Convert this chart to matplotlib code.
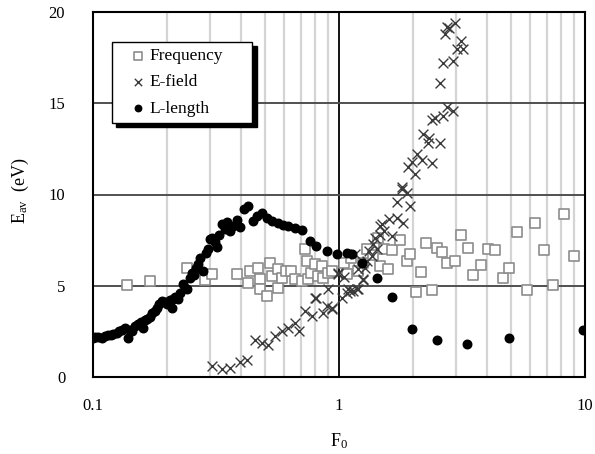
import numpy as np
import matplotlib
matplotlib.use("Agg")
import matplotlib.pyplot as plt

plt.rcParams['font.family'] = ['Liberation Serif', 'DejaVu Serif']
plt.rcParams['mathtext.fontset'] = 'custom'
plt.rcParams['mathtext.rm'] = 'Liberation Serif'
plt.rcParams['mathtext.it'] = 'Liberation Serif'

# L-length series
l_x = [0.100, 0.102, 0.105, 0.109, 0.112, 0.115, 0.118, 0.121, 0.125, 0.128,
       0.131, 0.135, 0.139, 0.142, 0.144, 0.148, 0.152, 0.156, 0.160, 0.163,
       0.166, 0.170, 0.174, 0.178, 0.182, 0.186, 0.191, 0.196, 0.200, 0.205,
       0.210, 0.211, 0.216, 0.221, 0.226, 0.232, 0.236, 0.241, 0.247, 0.253,
       0.258, 0.262, 0.267, 0.272, 0.280, 0.287, 0.293, 0.299, 0.306, 0.312,
       0.319, 0.326, 0.334, 0.345, 0.352, 0.362, 0.372, 0.384, 0.397, 0.410,
       0.427, 0.447, 0.466, 0.486, 0.510, 0.534, 0.565, 0.590, 0.620, 0.660,
       0.705, 0.760, 0.810, 0.890, 0.980, 1.08, 1.13, 1.24, 1.43, 1.64,
       1.98, 2.50, 3.30, 4.90, 9.80]
l_y = [2.15, 2.2, 2.2, 2.15, 2.25, 2.3, 2.3, 2.35, 2.4, 2.5,
       2.6, 2.7, 2.15, 2.6, 2.5, 2.8, 2.9, 3.0, 2.7, 3.1,
       3.2, 3.3, 3.5, 3.6, 3.8, 4.0, 4.15, 4.1, 4.0, 4.2,
       3.8, 4.3, 4.4, 4.3, 4.6, 5.1, 4.9, 4.8, 5.4, 5.7,
       5.6, 6.0, 6.2, 6.5, 5.8, 6.8, 7.0, 7.55, 7.6, 7.4,
       7.1, 7.8, 8.4, 8.1, 8.5, 8.0, 8.3, 8.6, 8.2, 9.2,
       9.35, 8.55, 8.8, 9.0, 8.7, 8.55, 8.44, 8.35, 8.27, 8.16,
       8.05, 7.45, 7.18, 6.9, 6.72, 6.8, 6.74, 6.25, 5.42, 4.4,
       2.65, 2.05, 1.8, 2.15, 2.55]

# Frequency series
f_x = [0.138, 0.170, 0.241, 0.285, 0.305, 0.385, 0.427, 0.434, 0.470, 0.476,
       0.476, 0.510, 0.525, 0.534, 0.565, 0.565, 0.585, 0.610, 0.640, 0.660,
       0.705, 0.725, 0.740, 0.750, 0.770, 0.800, 0.820, 0.850, 0.860, 0.900,
       0.940, 1.05, 1.08, 1.19, 1.25, 1.30, 1.44, 1.47, 1.53, 1.58,
       1.64, 1.77, 1.89, 1.94, 2.05, 2.16, 2.25, 2.38, 2.50, 2.63,
       2.75, 2.97, 3.12, 3.33, 3.50, 3.78, 4.03, 4.30, 4.64, 4.93,
       5.30, 5.80, 6.25, 6.80, 7.40, 8.20, 9.00, 1.12, 1.38]
f_y = [5.04, 5.26, 5.97, 5.3, 5.65, 5.65, 5.15, 5.8, 5.97, 5.37,
       4.82, 4.44, 6.25, 5.53, 5.92, 4.88, 5.42, 5.8, 5.8, 5.37,
       5.26, 7.0, 6.36, 5.37, 5.7, 6.2, 5.53, 6.08, 5.42, 5.7,
       5.8, 6.25, 5.64, 5.8, 6.25, 7.0, 7.6, 6.08, 7.0, 5.9,
       6.96, 7.5, 6.36, 6.74, 4.66, 5.75, 7.34, 4.77, 7.07, 6.85,
       6.25, 6.36, 7.78, 7.07, 5.6, 6.14, 7.0, 6.96, 5.42, 5.97,
       7.95, 4.77, 8.44, 6.96, 5.04, 8.93, 6.63, 6.5, 6.7]

# E-field series
e_x = [0.305, 0.335, 0.36, 0.395, 0.422, 0.455, 0.487, 0.515, 0.55, 0.585,
       0.62, 0.66, 0.69, 0.725, 0.78, 0.80, 0.81, 0.86, 0.89, 0.90,
       0.935, 0.94, 0.99, 0.99, 1.03, 1.08, 1.09, 1.11, 1.14, 1.18,
       1.19, 1.25, 1.25, 1.16, 1.30, 1.36, 1.37, 1.43, 1.47, 1.47,
       1.50, 1.53, 1.60, 1.64, 1.72, 1.72, 1.80, 1.82, 1.80, 1.89,
       1.90, 1.94, 1.98, 2.04, 2.07, 2.17, 2.20, 2.30, 2.33, 2.38,
       2.38, 2.45, 2.58, 2.65, 2.75, 2.90, 2.58, 2.65, 2.90, 3.03,
       3.20, 3.14, 2.70, 2.80, 2.75, 2.97, 1.05, 1.20, 1.28, 1.33, 1.40]
e_y = [0.6, 0.44, 0.5, 0.82, 0.93, 2.03, 1.86, 1.75, 2.25, 2.52,
       2.68, 2.96, 2.52, 3.6, 3.34, 4.33, 4.33, 3.5, 3.9, 4.82,
       3.7, 3.8, 5.64, 5.7, 4.33, 4.6, 4.8, 4.7, 4.7, 4.8,
       4.8, 5.3, 5.37, 6.74, 6.36, 6.63, 7.3, 7.0, 8.27, 7.8,
       8.4, 8.0, 8.66, 7.7, 8.7, 9.6, 10.4, 8.44, 10.3, 10.1,
       11.5, 9.37, 11.8, 11.1, 12.2, 11.9, 13.3, 12.8, 13.1, 11.7,
       14.1, 14.2, 12.8, 14.3, 14.8, 14.6, 16.1, 17.2, 17.3, 18.0,
       18.0, 18.4, 18.8, 19.1, 19.2, 19.4, 5.5, 5.9, 6.0, 6.9, 7.6]

fig = plt.figure(figsize=(5.95, 4.54), dpi=100)
ax = fig.add_axes([93 / 595, 1 - 377 / 454, 492 / 595, 365 / 454])

ax.set_xscale('log')
ax.set_xlim(0.1, 10)
ax.set_ylim(0, 20)

# grid: light minor verticals, dark major lines
for v in [k * 10.0 ** p for p in (-1, 0) for k in range(2, 10)]:
    ax.axvline(v, color='#d4d4d4', lw=1.6, zorder=0)
ax.axvline(1, color='black', lw=1.3, zorder=0.5)
for h in (5, 10, 15):
    ax.axhline(h, color='#505050', lw=1.4, zorder=0.5)

ax.scatter(f_x, f_y, marker='s', s=48, facecolors='white', edgecolors='#8c8c8c',
           linewidths=1.2, label='Frequency', zorder=2)
ax.scatter(e_x, e_y, marker='x', s=50, color='#3a3a3a', linewidths=1.0,
           label='E-field', zorder=3)
ax.scatter(l_x, l_y, marker='o', s=38, color='black', edgecolors='black',
           label='L-length', zorder=4)

for sp in ax.spines.values():
    sp.set_linewidth(1.5)
    sp.set_color('black')

ax.set_xticks([0.1, 1, 10])
ax.set_xticklabels(['0.1', '1', '10'])
ax.set_yticks([0, 5, 10, 15, 20])
ax.xaxis.set_minor_locator(matplotlib.ticker.NullLocator())
ax.tick_params(axis='both', which='both', length=0, labelsize=12)
ax.tick_params(axis='y', pad=20)
ax.tick_params(axis='x', pad=15)

ax.set_xlabel('F$_0$', fontsize=13)
ax.set_ylabel('E$_{av}$  (eV)', fontsize=13)
ax.xaxis.set_label_coords(0.5, -0.15)
ax.yaxis.set_label_coords(-0.125, 0.51)

leg = ax.legend(loc='upper left', bbox_to_anchor=(0.039, 0.4, 0.285, 0.518),
                mode='expand', borderaxespad=0, fontsize=12.5, fancybox=False,
                framealpha=1, edgecolor='black', borderpad=0.35, labelspacing=0.58,
                handlelength=2.3, handletextpad=-0.5, markerscale=0.75,
                shadow={'ox': 3, 'oy': -3, 'color': 'black', 'alpha': 1})
leg.get_frame().set_linewidth(1.0)
leg.set_zorder(10)

fig.savefig('out.png', dpi=100)
